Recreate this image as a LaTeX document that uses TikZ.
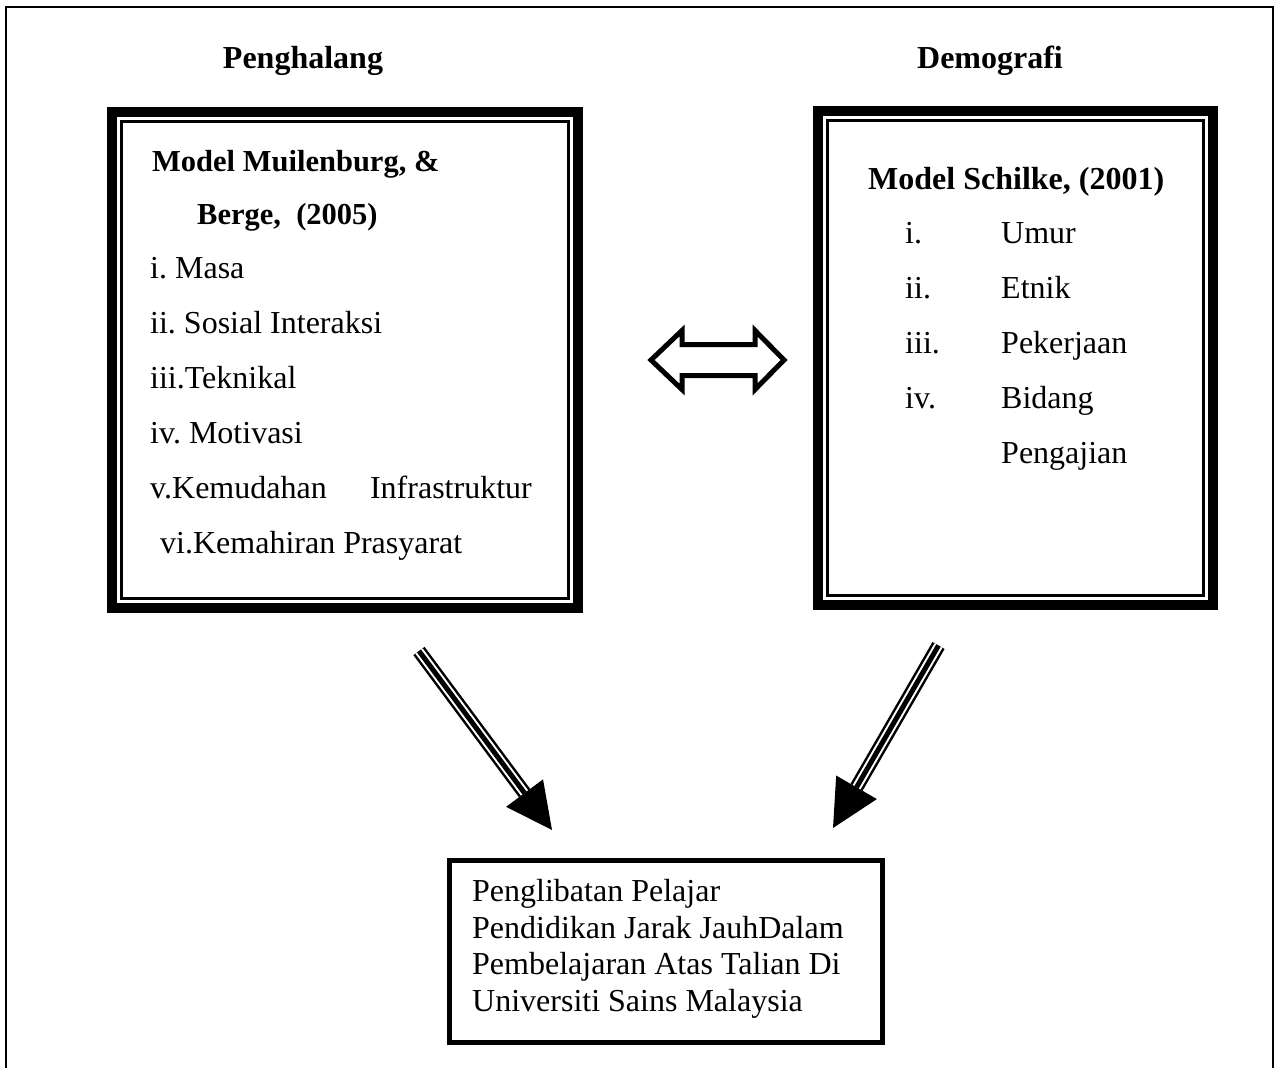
\documentclass[tikz,border=0pt]{standalone}
\usepackage{fontspec}
\setmainfont{Liberation Serif}
\usetikzlibrary{calc}
\frenchspacing
\begin{document}
\begin{tikzpicture}[x=1pt,y=-1pt,
  txt/.style={anchor=base west, inner sep=0pt, font=\fontsize{32}{38}\selectfont},
  txte/.style={anchor=base east, inner sep=0pt, font=\fontsize{32}{38}\selectfont},
  btxt/.style={anchor=base west, inner sep=0pt, font=\fontsize{32}{38}\selectfont\bfseries},
  bstxt/.style={anchor=base west, inner sep=0pt, font=\fontsize{30.5}{36}\selectfont\bfseries},
  head/.style={anchor=base, inner sep=0pt, font=\fontsize{32}{38}\selectfont\bfseries},
  boxshape/.style={draw=none, inner sep=0pt},
  thickedge/.style={line width=10pt},
  thinedge/.style={line width=2.5pt},
  plainedge/.style={line width=5pt},
  frameline/.style={line width=1.5pt},
  shaftouter/.style={line width=14pt},
  shaftgap/.style={white, line width=9pt},
  shaftinner/.style={line width=5pt},
  dblarrow/.style={line width=5pt, fill=white, line join=miter},
]
\useasboundingbox (0,0) rectangle (1275,1068);
\fill[white] (0,0) rectangle (1275,1068);
\draw[frameline] (6,1068) -- (6,7) -- (1273,7) -- (1273,1068);

% headings
\node[head] (h1) at (303,68) {Penghalang};
\node[head] (h2) at (990,68) {Demografi};

% left box
\node[boxshape, minimum width=476pt, minimum height=506pt] (lbox) at (345,360) {};
\draw[thickedge] ([shift={(5pt,-5pt)}]lbox.north west) rectangle ([shift={(-5pt,5pt)}]lbox.south east);
\draw[thinedge] ([shift={(14.5pt,-14.5pt)}]lbox.north west) rectangle ([shift={(-14.5pt,14.5pt)}]lbox.south east);

\node[bstxt] (l0) at (152,171) {Model Muilenburg, \&};
\node[bstxt] (l0b) at (197,224) {Berge,\ \ (2005)};
\node[txt] (l1) at (150,278) {i. Masa};
\node[txt] (l2) at (150,333) {ii. Sosial Interaksi};
\node[txt] (l3) at (150,388) {iii.Teknikal};
\node[txt] (l4) at (150,443) {iv. Motivasi};
\node[txt] (l5) at (150,498) {v.Kemudahan};
\node[txte] (l5b) at (532,498) {Infrastruktur};
\node[txt] (l6) at (160,553) {vi.Kemahiran Prasyarat};

% right box
\node[boxshape, minimum width=405pt, minimum height=504pt] (rbox) at (1015.5,358) {};
\draw[thickedge] ([shift={(5pt,-5pt)}]rbox.north west) rectangle ([shift={(-5pt,5pt)}]rbox.south east);
\draw[thinedge] ([shift={(14.5pt,-14.5pt)}]rbox.north west) rectangle ([shift={(-14.5pt,14.5pt)}]rbox.south east);

\node[btxt] (r0) at (868,189) {Model Schilke, (2001)};
\node[txt] (r1n) at (905,243) {i.};
\node[txt] (r1) at (1001,243) {Umur};
\node[txt] (r2n) at (905,298) {ii.};
\node[txt] (r2) at (1001,298) {Etnik};
\node[txt] (r3n) at (905,353) {iii.};
\node[txt] (r3) at (1001,353) {Pekerjaan};
\node[txt] (r4n) at (905,408) {iv.};
\node[txt] (r4) at (1001,408) {Bidang};
\node[txt] (r5) at (1001,463) {Pengajian};

% bottom box
\node[boxshape, minimum width=438pt, minimum height=187pt] (bbox) at (666,951.5) {};
\draw[plainedge] ([shift={(2.5pt,-2.5pt)}]bbox.north west) rectangle ([shift={(-2.5pt,2.5pt)}]bbox.south east);
\node[txt] (b1) at (472,901) {Penglibatan Pelajar};
\node[txt] (b2) at (472,938) {Pendidikan Jarak JauhDalam};
\node[txt] (b3) at (472,974) {Pembelajaran Atas Talian Di};
\node[txt] (b4) at (472,1011) {Universiti Sains Malaysia};

% double arrow between boxes
\coordinate (dl) at (651,360);
\coordinate (dr) at (784,360);
\draw[dblarrow] (dl) -- (682,330.5) -- (682,344.5) -- (755,344.5) -- (755,330.5) -- (dr)
  -- (755,389.5) -- (755,375.5) -- (682,375.5) -- (682,389.5) -- cycle;

% left diagonal arrow
\coordinate (a1s) at (419,651);
\coordinate (a1t) at (552,830);
\coordinate (a1b) at ($(a1t)!46pt!(a1s)$);
\draw[shaftouter] (a1s) -- (a1b);
\draw[shaftgap] (a1s) -- (a1b);
\draw[shaftinner] (a1s) -- (a1b);
\fill ($(a1b)!23pt!90:(a1t)$) -- (a1t) -- ($(a1b)!23pt!-90:(a1t)$) -- cycle;

% right diagonal arrow
\coordinate (a2s) at (938.5,645.5);
\coordinate (a2t) at (833,828);
\coordinate (a2b) at ($(a2t)!47pt!(a2s)$);
\draw[shaftouter] (a2s) -- (a2b);
\draw[shaftgap] (a2s) -- (a2b);
\draw[shaftinner] (a2s) -- (a2b);
\fill ($(a2b)!23.5pt!90:(a2t)$) -- (a2t) -- ($(a2b)!23.5pt!-90:(a2t)$) -- cycle;
\end{tikzpicture}
\end{document}
